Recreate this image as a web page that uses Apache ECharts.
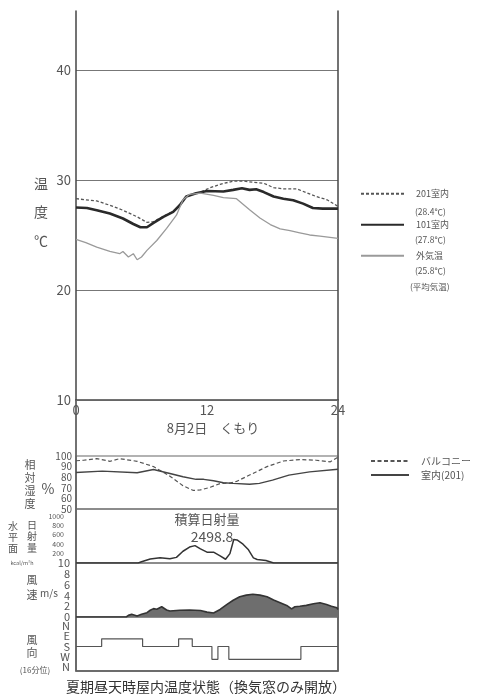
<!DOCTYPE html>
<html>
<head>
<meta charset="utf-8">
<script src="https://cdn.jsdelivr.net/npm/echarts@6/dist/echarts.min.js"></script>
<style>
  html, body { margin: 0; padding: 0; background: #fff; }
  #chart { width: 480px; height: 695px; }
</style>
</head>
<body>
<div id="chart"></div>
<script>
// Air temperature, 8/2 (cloudy) — hour of day / °C
const temp201Hours = [0, 0.9, 1.9, 3.1, 4.3, 5.6, 6.5, 7.1, 8.0, 8.9, 9.5, 10.1, 11.0, 11.4, 12.3, 13.2, 14.4, 15.3, 16.2, 17.2, 18.1, 19.0, 20.2, 21.1, 22.0, 23.0, 24];
const temp201 = [28.3, 28.2, 28.1, 27.7, 27.25, 26.65, 26.15, 26.2, 26.7, 27.15, 27.7, 28.5, 28.8, 28.9, 29.3, 29.6, 29.9, 29.9, 29.8, 29.7, 29.3, 29.2, 29.2, 28.85, 28.5, 28.2, 27.6];

const temp101Hours = [0, 1.0, 1.9, 3.1, 4.3, 5.25, 5.9, 6.5, 7.1, 8.0, 8.9, 9.5, 10.1, 11.0, 12.0, 13.5, 14.4, 15.2, 15.9, 16.5, 17.2, 18.1, 19.0, 19.9, 20.8, 21.7, 22.6, 24];
const temp101 = [27.5, 27.45, 27.25, 26.95, 26.5, 26.0, 25.7, 25.7, 26.1, 26.65, 27.1, 27.7, 28.5, 28.8, 29.0, 28.95, 29.1, 29.25, 29.1, 29.15, 28.9, 28.5, 28.3, 28.15, 27.85, 27.45, 27.4, 27.4];

const tempOutHours = [0, 0.9, 1.9, 3.1, 4.0, 4.3, 4.8, 5.25, 5.6, 6.0, 6.5, 7.4, 8.3, 9.2, 9.8, 10.4, 11.4, 12.6, 13.5, 14.7, 15.3, 15.9, 16.85, 17.8, 18.7, 19.6, 20.5, 21.4, 22.35, 24];
const tempOut = [24.6, 24.3, 23.9, 23.5, 23.3, 23.5, 23.0, 23.3, 22.75, 23.0, 23.6, 24.5, 25.6, 26.8, 28.2, 28.7, 28.8, 28.6, 28.4, 28.3, 27.8, 27.3, 26.55, 25.95, 25.55, 25.4, 25.2, 25.0, 24.9, 24.7];

// Relative humidity (%)
const rhBalconyHours = [0, 0.7, 1.9, 3.1, 4.0, 5.6, 7.1, 8.6, 9.8, 10.75, 11.4, 12.3, 13.2, 14.1, 14.7, 15.9, 17.5, 19.0, 20.5, 22.0, 23.3, 24];
const rhBalcony = [95.5, 96, 97.5, 95, 97.5, 95, 90, 81, 72, 67.5, 68, 70.5, 74, 74.5, 76, 82, 90, 95.3, 96.6, 96, 94.5, 99];
const rhRoomHours = [0, 2.4, 5.6, 7.1, 8.6, 9.8, 11.0, 11.7, 12.6, 13.5, 14.4, 15.9, 16.8, 18.0, 19.5, 21.4, 24];
const rhRoom = [84.5, 85.7, 84.2, 87.3, 83.5, 80.4, 78, 78, 76.7, 74.8, 74.2, 73.3, 74.2, 77.3, 82, 85, 87.5];

// Horizontal solar radiation (kcal/m²h)
const solarHours = [0, 5.7, 6.0, 6.8, 7.7, 8.6, 9.2, 9.8, 10.4, 10.9, 11.4, 12.0, 12.6, 13.2, 13.7, 14.1, 14.45, 14.75, 15.3, 15.8, 16.25, 16.6, 17.4, 18.1, 24];
const solar = [0, 0, 25, 85, 110, 90, 120, 250, 340, 370, 300, 230, 230, 150, 80, 200, 500, 490, 400, 280, 110, 75, 55, 0, 0];
const solarTotal = '2498.8';

// Wind speed (m/s)
const windHours = [0, 4.6, 4.8, 5.1, 5.6, 6.0, 6.5, 6.8, 7.1, 7.4, 7.85, 8.3, 8.6, 9.5, 10.4, 11.4, 12.0, 12.6, 13.2, 13.8, 14.4, 15.0, 15.6, 16.2, 16.85, 17.5, 18.1, 18.7, 19.3, 19.75, 20.05, 20.5, 21.1, 21.75, 22.35, 22.95, 23.4, 23.9, 24];
const windSpeed = [0, 0, 0.3, 0.5, 0.2, 0.5, 0.8, 1.25, 1.55, 1.45, 1.9, 1.3, 1.1, 1.25, 1.3, 1.2, 0.9, 0.75, 1.4, 2.3, 3.1, 3.75, 4.05, 4.2, 4.05, 3.75, 3.15, 2.65, 2.15, 1.5, 1.9, 2.0, 2.15, 2.45, 2.65, 2.3, 2.0, 1.7, 1.4];

// Wind direction, 16-point compass (0 = N, 4 = E, 8 = S, 12 = W, 16 = N)
const dirHours = [0, 2.35, 6.1, 9.4, 10.65, 12.45, 13.0, 14.0, 20.6, 24];
const dirPoints = [8, 5, 8, 5, 8, 13, 8, 13, 8, 8];

// Axis ticks
const tempTicks = [10, 20, 30, 40];
const hourTicks = [0, 12, 24];
const rhTicks = [50, 60, 70, 80, 90, 100];
const solarTicks = [200, 400, 600, 800, 1000];
const windTicks = [0, 2, 4, 6, 8, 10];
const dirTicksNS = [0, 8, 16];
const dirTicksEW = [4, 12];
const dirNames = { 0: 'N', 4: 'E', 8: 'S', 12: 'W', 16: 'N' };

const FONT = '"Noto Sans CJK JP", "Noto Sans", sans-serif';
const INK = '#555';
const zip = (xs, ys) => xs.map((x, i) => [x, ys[i]]);

const L = 76, W = 262;
const panelBorder = { show: true, borderColor: '#666', borderWidth: 1.2, backgroundColor: 'transparent' };

const grid = [
  { left: L, width: W, top: 11, height: 389 },                                   // temperature
  { left: L, width: W, top: 400, height: 271, show: true, borderColor: '#444', borderWidth: 1.5, backgroundColor: 'transparent' }, // lower frame
  Object.assign({ left: L, width: W, top: 456, height: 53 }, panelBorder),       // humidity
  Object.assign({ left: L, width: W, top: 509, height: 54 }, panelBorder),       // solar
  Object.assign({ left: L, width: W, top: 563, height: 54 }, panelBorder),       // wind speed
  Object.assign({ left: L, width: W, top: 617, height: 54 }, panelBorder)        // wind direction
];

const hiddenX = i => ({ type: 'value', gridIndex: i, min: 0, max: 24, show: false });

const xAxis = [
  {
    type: 'value', gridIndex: 0, min: 0, max: 24,
    axisLine: { show: true, lineStyle: { color: '#666', width: 1.2 } },
    axisTick: { show: false },
    splitLine: { show: false },
    axisLabel: { customValues: hourTicks, fontSize: 13, color: INK, margin: 4, fontFamily: FONT,
                 showMinLabel: true, showMaxLabel: true }
  },
  hiddenX(1), hiddenX(2), hiddenX(3), hiddenX(4), hiddenX(5)
];

const smallLabel = (ticks, size, margin, fmt) => ({
  customValues: ticks, fontSize: size, lineHeight: Math.round(size * 0.75), color: INK,
  margin: margin, fontFamily: FONT,
  showMinLabel: true, showMaxLabel: true, hideOverlap: false,
  formatter: fmt || (v => String(v))
});

// compass axis is split in two so the tightly packed letters are all kept
const dirAxis = ticks => ({
  type: 'value', gridIndex: 5, min: -3.51, max: 17.56, inverse: true, position: 'left',
  axisLine: { show: false }, axisTick: { show: false, customValues: ticks }, splitLine: { show: false },
  axisLabel: smallLabel(ticks, 11, 6, v => dirNames[v])
});

const yAxis = [
  {
    type: 'value', gridIndex: 0, min: 10, max: 45.36, position: 'left',
    axisLine: { show: true, lineStyle: { color: '#444', width: 1.5 } },
    axisTick: { show: false, customValues: tempTicks },
    axisLabel: smallLabel(tempTicks, 13, 5),
    splitLine: { show: true, lineStyle: { color: '#777', width: 1.2 } }
  },
  {
    type: 'value', gridIndex: 0, min: 10, max: 45.36, position: 'right',
    axisLine: { show: true, lineStyle: { color: '#444', width: 1.5 } },
    axisTick: { show: false }, axisLabel: { show: false }, splitLine: { show: false }
  },
  { type: 'value', gridIndex: 1, min: 0, max: 1, show: false },
  {
    type: 'value', gridIndex: 2, min: 50, max: 100,
    axisLine: { show: false }, axisTick: { show: false, customValues: rhTicks }, splitLine: { show: false },
    axisLabel: smallLabel(rhTicks, 10, 4)
  },
  {
    type: 'value', gridIndex: 3, min: 0, max: 1149,
    axisLine: { show: false }, axisTick: { show: false, customValues: solarTicks }, splitLine: { show: false },
    axisLabel: smallLabel(solarTicks, 7, 12)
  },
  {
    type: 'value', gridIndex: 4, min: 0, max: 10,
    axisLine: { show: false }, axisTick: { show: false, customValues: windTicks }, splitLine: { show: false },
    axisLabel: smallLabel(windTicks, 11, 6)
  },
  dirAxis(dirTicksNS),
  dirAxis(dirTicksEW)
];

const lineSeries = (name, xi, yi, data, style) => ({
  name: name, type: 'line', xAxisIndex: xi, yAxisIndex: yi,
  data: data, symbol: 'none', showSymbol: false, silent: true,
  itemStyle: { color: style.color },
  lineStyle: style, z: 3
});

const series = [
  lineSeries('201室内', 0, 0, zip(temp201Hours, temp201), { color: '#555', width: 1.3, type: [3, 2] }),
  lineSeries('101室内', 0, 0, zip(temp101Hours, temp101), { color: '#2a2a2a', width: 2.6 }),
  lineSeries('外気温', 0, 0, zip(tempOutHours, tempOut), { color: '#9a9a9a', width: 1.3 }),
  lineSeries('バルコニー', 2, 3, zip(rhBalconyHours, rhBalcony), { color: '#555', width: 1.2, type: [4, 2.5] }),
  lineSeries('室内(201)', 2, 3, zip(rhRoomHours, rhRoom), { color: '#444', width: 1.4 }),
  lineSeries('日射量', 3, 4, zip(solarHours, solar), { color: '#333', width: 1.5 }),
  Object.assign(lineSeries('風速', 4, 5, zip(windHours, windSpeed), { color: '#333', width: 1.6 }),
    { areaStyle: { color: '#6e6e6e', opacity: 1 } }),
  Object.assign(lineSeries('風向', 5, 6, zip(dirHours, dirPoints), { color: '#555', width: 1.2 }),
    { step: 'end' })
];

const legendItem = (name, left, top, width, size) => ({
  data: [name], left: left, top: top, orient: 'horizontal',
  itemWidth: width, itemHeight: 12, padding: 0, selectedMode: false,
  itemStyle: { opacity: 0, borderWidth: 0 },
  textStyle: { fontSize: size, color: INK, fontFamily: FONT, padding: [0, 0, 0, 7] }
});

const legend = [
  legendItem('201室内', 360, 189, 43, 9),
  legendItem('101室内', 360, 220, 43, 9),
  legendItem('外気温', 360, 251, 43, 9),
  legendItem('バルコニー', 370, 456, 38, 10),
  legendItem('室内(201)', 370, 470, 38, 10)
];

const txt = (x, y, text, size, extra) => ({
  type: 'text', x: x, y: y, silent: true,
  style: Object.assign({
    text: text, fontSize: size, fill: INK, fontFamily: FONT,
    align: 'center', verticalAlign: 'middle'
  }, extra || {})
});

const graphic = [
  // legend sub-captions
  txt(415, 212, '(28.4℃)', 8.5, { align: 'left' }),
  txt(415, 240, '(27.8℃)', 8.5, { align: 'left' }),
  txt(415, 271, '(25.8℃)', 8.5, { align: 'left' }),
  txt(410, 287, '(平均気温)', 8.5, { align: 'left' }),
  // axis titles
  txt(41, 169, '温\n度\n℃', 14, { verticalAlign: 'top', lineHeight: 28.5 }),
  txt(30, 458, '相\n対\n湿\n度', 11, { verticalAlign: 'top', lineHeight: 13 }),
  txt(48, 489, '%', 14),
  txt(13, 521, '水\n平\n面', 10, { verticalAlign: 'top', lineHeight: 11 }),
  txt(32, 519, '日\n射\n量', 10, { verticalAlign: 'top', lineHeight: 11.5 }),
  txt(22, 563, 'kcal/m²h', 5.5),
  txt(32, 572, '風\n速', 11, { verticalAlign: 'top', lineHeight: 15 }),
  txt(49, 593, 'm/s', 10),
  txt(32, 633, '風\n向', 11, { verticalAlign: 'top', lineHeight: 13 }),
  txt(35, 670, '(16分位)', 8),
  // captions
  txt(213, 428, '8月2日　くもり', 13),
  txt(207, 519, '積算日射量', 13),
  txt(212, 537, solarTotal, 14),
  txt(206, 687, '夏期昼天時屋内温度状態（換気窓のみ開放）', 14, { fill: '#333' })
];

const chart = echarts.init(document.getElementById('chart'), null, { renderer: 'canvas' });
chart.setOption({
  animation: false,
  backgroundColor: '#fff',
  textStyle: { fontFamily: FONT },
  grid: grid,
  xAxis: xAxis,
  yAxis: yAxis,
  legend: legend,
  series: series,
  graphic: graphic
});
</script>
</body>
</html>
